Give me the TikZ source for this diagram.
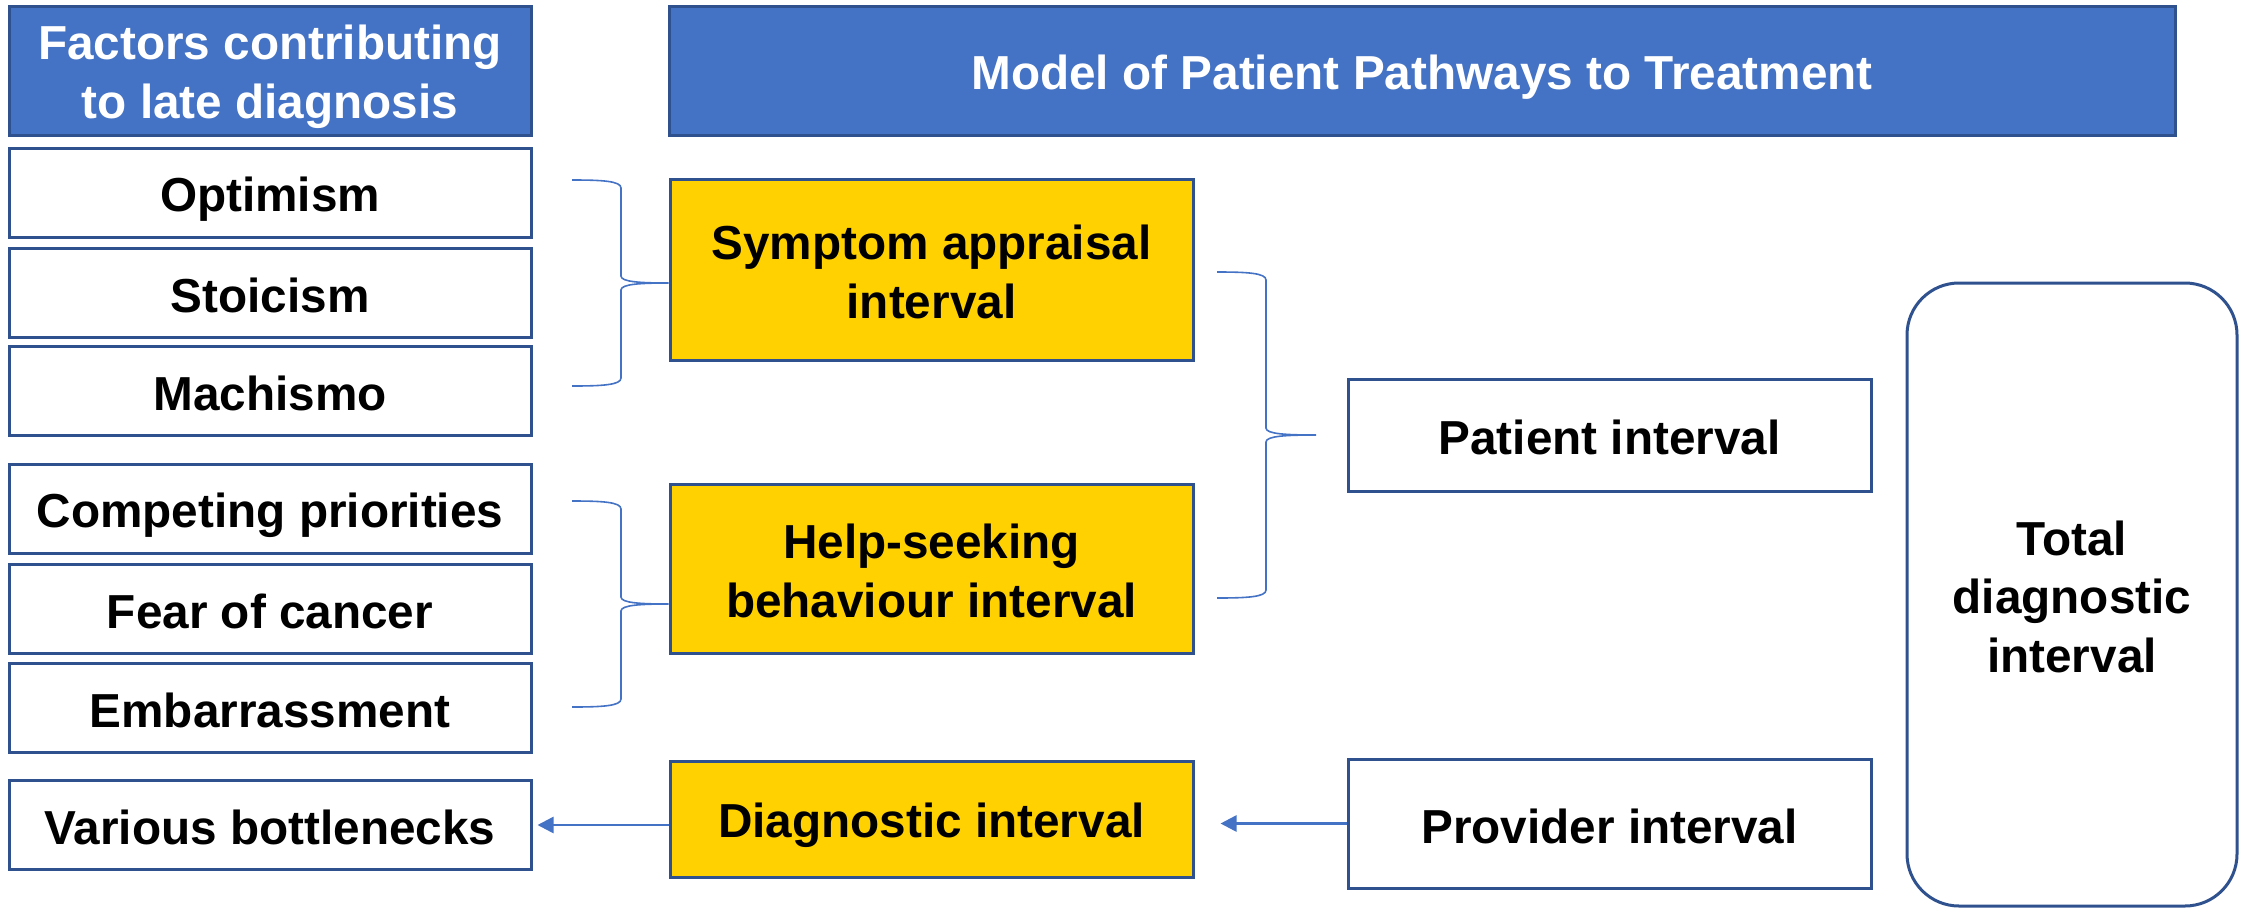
\documentclass[tikz,border=0pt]{standalone}
\usepackage{fontspec}
\setmainfont{Liberation Sans}
\usetikzlibrary{arrows.meta}
\definecolor{hdrblue}{HTML}{4472C4}
\definecolor{edgeblue}{HTML}{2F528F}
\definecolor{boxyellow}{HTML}{FFD100}
\newcommand\ls{\vrule width0pt height1.0em depth0.18em\relax}
\begin{document}
\begin{tikzpicture}[x=1pt,y=-1pt,
  base/.style={draw=edgeblue,line width=3pt,inner sep=0pt,align=center,
    font=\fontsize{47.7}{57.5}\selectfont\bfseries},
  hdr/.style={base,fill=hdrblue,text=white},
  factor/.style={base,fill=white,minimum width=522pt,minimum height=89pt},
  stage/.style={base,fill=boxyellow,minimum width=523pt},
  interval/.style={base,fill=white,minimum width=523pt},
  brace/.style={draw=hdrblue,line width=1.6pt},
  arr/.style={draw=hdrblue,line width=2.6pt,-{Triangle[length=16pt,width=16pt]}}]
\useasboundingbox (0,0) rectangle (2241,908);
% headers
\node[hdr,minimum width=522pt,minimum height=129pt] (hdrL) at (270,70.5) {\ls Factors contributing\\\ls to late diagnosis};
\node[hdr,minimum width=1506pt,minimum height=129pt] (hdrR) at (1422,70.5) {\ls Model of Patient Pathways to Treatment};
% factors
\node[factor] (opt) at (270,192.5) {\ls Optimism};
\node[factor] (sto) at (270,292.5) {\ls Stoicism};
\node[factor] (mac) at (270,391) {\ls Machismo};
\node[factor] (comp) at (270,508.5) {\ls Competing priorities};
\node[factor] (fear) at (270,608.5) {\ls Fear of cancer};
\node[factor] (emb) at (270,707.5) {\ls Embarrassment};
\node[factor] (var) at (270,825) {\ls Various bottlenecks};
% stages
\node[stage,minimum height=181pt] (sym) at (931.5,269.5) {\ls Symptom appraisal\\\ls interval};
\node[stage,minimum height=169pt] (help) at (931.5,568.5) {\ls Help-seeking\\\ls behaviour interval};
\node[stage,minimum height=116pt] (diag) at (931.5,819) {\ls Diagnostic interval};
% intervals
\node[interval,minimum height=112pt] (pat) at (1609.5,435) {\ls Patient interval};
\node[interval,minimum height=129pt] (prov) at (1609.5,823.5) {\ls Provider interval};
\node[base,fill=white,rounded corners=52pt,minimum width=330pt,minimum height=623pt] (total) at (2072,594.5) {\ls Total\\\ls diagnostic\\\ls interval};
% braces
\coordinate (b1t) at (572,180);
\coordinate (b1m) at (sym.west |- 0,283);
\coordinate (b1b) at (572,386);
\draw[brace] (b1t) .. controls (602,180) and (621,181) .. (621,188) -- (621,276)
  .. controls (621,282) and (641,283) .. (b1m)
  .. controls (641,283) and (621,284) .. (621,290) -- (621,378)
  .. controls (621,385) and (602,386) .. (b1b);
\coordinate (b2t) at (572,501);
\coordinate (b2m) at (help.west |- 0,604);
\coordinate (b2b) at (572,707);
\draw[brace] (b2t) .. controls (602,501) and (621,502) .. (621,509) -- (621,597)
  .. controls (621,603) and (641,604) .. (b2m)
  .. controls (641,604) and (621,605) .. (621,611) -- (621,699)
  .. controls (621,706) and (602,707) .. (b2b);
\coordinate (b3t) at (1217,272);
\coordinate (b3m) at (1316,435);
\coordinate (b3b) at (1217,598);
\draw[brace] (b3t) .. controls (1247,272) and (1266,273) .. (1266,280) -- (1266,428)
  .. controls (1266,434) and (1286,435) .. (b3m)
  .. controls (1286,435) and (1266,436) .. (1266,442) -- (1266,590)
  .. controls (1266,597) and (1247,598) .. (b3b);
% arrows
\draw[arr,shorten >=5pt] (diag.west |- var.east) -- (var.east);
\draw[arr,shorten >=26pt] (prov.west) -- (diag.east |- prov.west);
\end{tikzpicture}
\end{document}
